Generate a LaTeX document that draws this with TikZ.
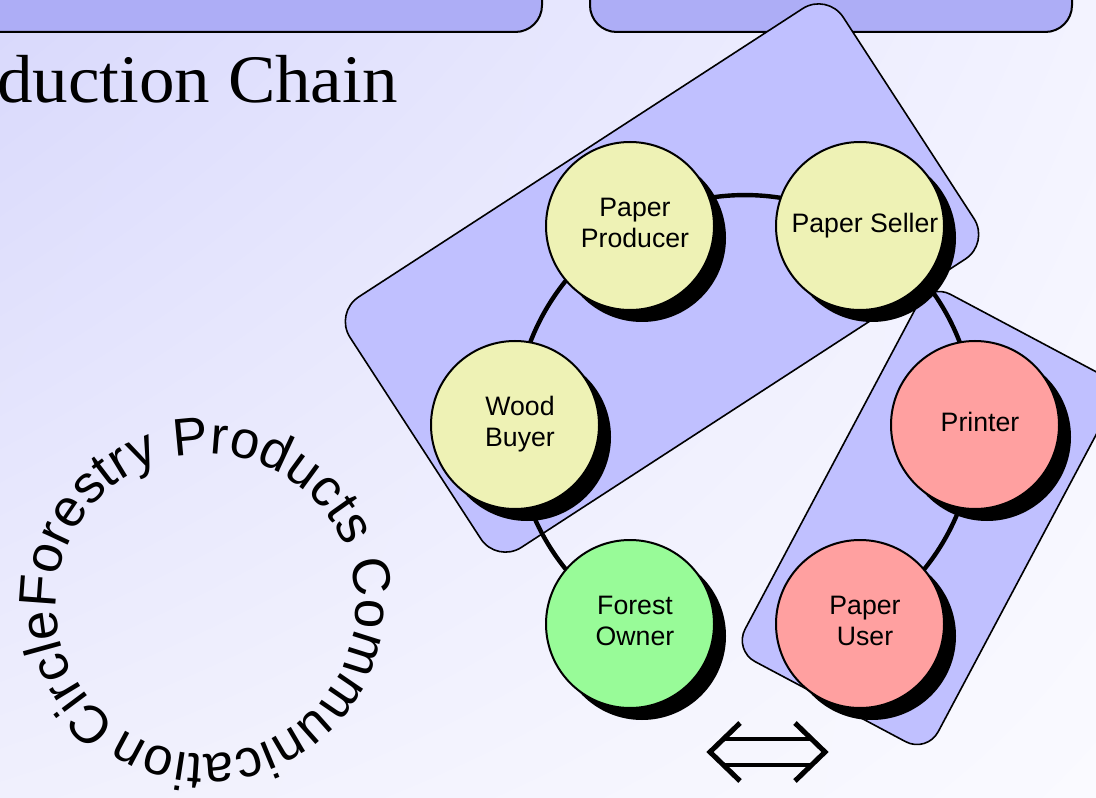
\documentclass[tikz,border=0pt]{standalone}
\usepackage{fontspec}
\setsansfont{Liberation Sans}
\newfontfamily\titleserif{Liberation Serif}[FakeStretch=1.045]
\usetikzlibrary{shadows,shadings,decorations.text}
\definecolor{bgA}{RGB}{216,216,252}
\definecolor{bgB}{RGB}{243,243,255}
\definecolor{bgC}{RGB}{240,240,253}
\definecolor{bgD}{RGB}{250,250,255}
\definecolor{barc}{RGB}{173,173,246}
\definecolor{grpc}{RGB}{192,192,255}
\definecolor{yel}{RGB}{238,242,181}
\definecolor{grn}{RGB}{152,251,152}
\definecolor{pnk}{RGB}{255,160,160}
\newcommand\nodefont{\sffamily\fontsize{20}{23.3}\selectfont}
\newcommand\circfont{\sffamily\fontsize{39.7}{40}\selectfont}
\newcommand\titlefont{\titleserif\fontsize{51}{60}\selectfont}
\newcommand\ctext[1]{\hspace*{7.5pt}\begin{tabular}{@{}c@{}}#1\end{tabular}}
\pgfdeclarelayer{bgl}
\pgfdeclarelayer{edgel}
\pgfsetlayers{bgl,edgel,main}
\begin{document}
\begin{tikzpicture}[x=0.75pt,y=-0.75pt,
  person/.style={circle, draw=black, line width=1.5pt, minimum size=126pt, inner sep=0pt,
    font=\nodefont,
    drop shadow={shadow xshift=9pt, shadow yshift=-9pt, opacity=1, fill=black}},
  group/.style={draw=black, line width=1.2pt, fill=grpc, rounded corners=22pt, inner sep=0pt},
  link/.style={line width=3.3pt, draw=black},
  bar/.style={draw=black, line width=1.5pt, fill=barc, rounded corners=20pt},
  arrowline/.style={line width=3.8pt, line join=miter}]
\useasboundingbox (0,0) rectangle (1096,798);
\clip (0,0) rectangle (1096,798);

\begin{pgfonlayer}{bgl}
  \shade[upper left=bgA, upper right=bgB, lower left=bgC, lower right=bgD] (0,0) rectangle (1096,798);
  \draw[bar] (-60,-60) rectangle (542,32);
  \draw[bar] (590,-60) rectangle (1072,32);
  \node[anchor=base east, inner sep=0pt, font=\titlefont] (title) at (398,103) {duction Chain};
  \node[group, minimum width=441pt, minimum height=224pt, rotate=33] (grpA) at (662,278) {};
  \node[group, rounded corners=18pt, minimum width=164pt, minimum height=312pt, rotate=-28] (grpB) at (928,518) {};
\end{pgfonlayer}

% people
\node[person, fill=yel] (wb) at (515,425) {\ctext{Wood\\Buyer}};
\node[person, fill=yel] (pp) at (630,226) {\ctext{Paper\\Producer}};
\node[person, fill=yel] (ps) at (860,226) {\ctext{Paper Seller}};
\node[person, fill=pnk] (pr) at (975,425) {\ctext{Printer}};
\node[person, fill=pnk] (pu) at (860,624) {\ctext{Paper\\User}};
\node[person, fill=grn] (fo) at (630,624) {\ctext{Forest\\Owner}};

\begin{pgfonlayer}{edgel}
  \draw[link] (fo.center) to[bend left=30, looseness=0.92] (wb.center);
  \draw[link] (wb.center) to[bend left=30, looseness=0.92] (pp.center);
  \draw[link] (pp.center) to[bend left=30, looseness=0.92] (ps.center);
  \draw[link] (ps.center) to[bend left=30, looseness=0.92] (pr.center);
  \draw[link] (pr.center) to[bend left=30, looseness=0.92] (pu.center);
\end{pgfonlayer}

% double arrow
\draw[arrowline] (740,723) -- (710,752) -- (740,781);
\draw[arrowline] (795,723) -- (825,752) -- (795,781);
\draw[line width=3.6pt] (725,739) -- (810,739);
\draw[line width=3.6pt] (725,765) -- (810,765);

% circular text
\coordinate (cc) at (206,604);
\path[decorate, decoration={text along path, text align=left,
   text={|\circfont|CircleForestry Products Communication}}]
   (cc) ++(233.6:112.5pt) arc[start angle=233.6, end angle=-126.4, radius=112.5pt];
\end{tikzpicture}
\end{document}
